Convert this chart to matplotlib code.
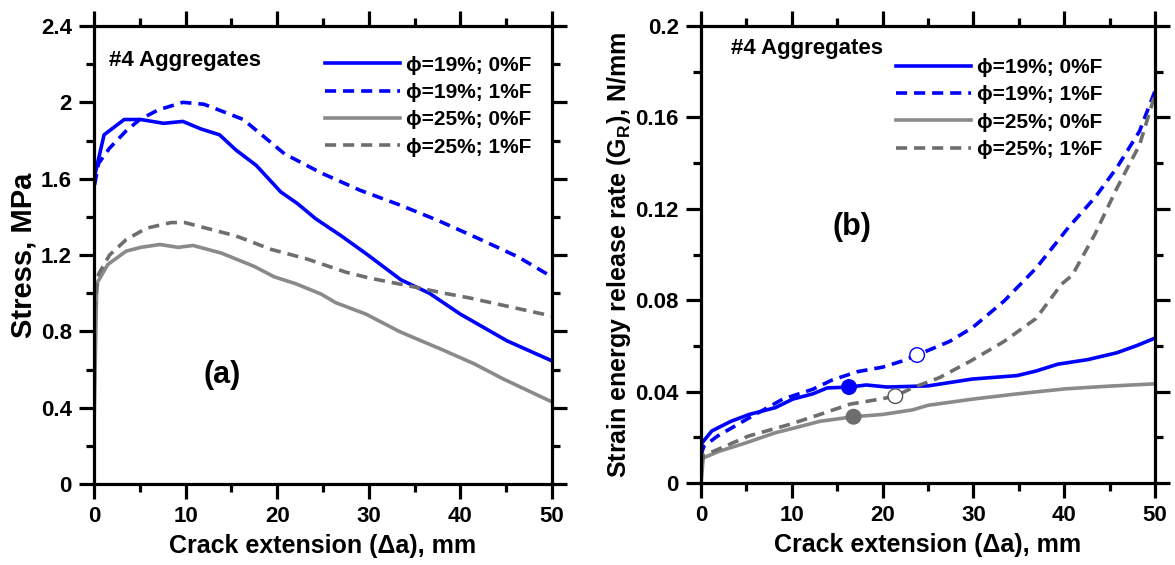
import numpy as np
import matplotlib
matplotlib.use('Agg')
import matplotlib.pyplot as plt
from matplotlib.ticker import MultipleLocator, FormatStrFormatter

plt.rcParams['font.family'] = ['Liberation Sans', 'DejaVu Sans']
plt.rcParams['font.weight'] = 'bold'
plt.rcParams['mathtext.fontset'] = 'custom'
plt.rcParams['mathtext.rm'] = 'Liberation Sans:bold'
plt.rcParams['mathtext.bf'] = 'Liberation Sans:bold'
plt.rcParams['mathtext.it'] = 'Liberation Sans:bold'
plt.rcParams['lines.scale_dashes'] = False

labels = ['\u03d5=19%; 0%F', '\u03d5=19%; 1%F', '\u03d5=25%; 0%F', '\u03d5=25%; 1%F']

# (a) stress vs crack extension
sa_x1 = [0, 0, 1.1, 3.3, 5.1, 7.6, 9.7, 11.7, 13.7, 15.5, 17.7, 20.4, 22.2, 24.2, 27, 29.9, 33.5, 36.6, 40, 45.1, 50]
sa_y1 = [0.95, 1.6, 1.83, 1.91, 1.91, 1.89, 1.90, 1.86, 1.83, 1.75, 1.67, 1.53, 1.47, 1.39, 1.30, 1.20, 1.07, 1.0, 0.89, 0.75, 0.645]
sa_x2 = [0, 0, 0.5, 1.7, 3.5, 5, 7, 9.7, 12, 13.9, 16.3, 20.8, 24.8, 29, 33.5, 37.6, 41.8, 46.3, 50]
sa_y2 = [1.0, 1.55, 1.68, 1.76, 1.85, 1.91, 1.96, 2.0, 1.99, 1.955, 1.91, 1.73, 1.63, 1.54, 1.46, 1.38, 1.29, 1.19, 1.085]
sa_x3 = [0, 0.3, 1.5, 3.5, 5.1, 7.2, 9.2, 10.8, 13.9, 17.5, 19.7, 22, 24.8, 26.4, 29.7, 33.3, 35, 38.2, 41.5, 44.7, 50]
sa_y3 = [0.3, 1.05, 1.15, 1.22, 1.24, 1.255, 1.24, 1.25, 1.21, 1.14, 1.085, 1.05, 0.995, 0.95, 0.89, 0.80, 0.765, 0.70, 0.63, 0.55, 0.43]
sa_x4 = [0, 0.5, 1.7, 3.5, 5.7, 8.4, 9.9, 12.3, 15.5, 19.3, 23.2, 27.5, 30, 34.2, 38.2, 41, 50]
sa_y4 = [0.9, 1.10, 1.20, 1.28, 1.34, 1.37, 1.37, 1.34, 1.30, 1.23, 1.18, 1.11, 1.08, 1.04, 1.0, 0.975, 0.88]

# (b) strain energy release rate vs crack extension
gb_x1 = [0, 0, 1.2, 3.3, 5.3, 8.2, 10.1, 12.3, 13.9, 16.4, 18.2, 20.5, 25, 29.9, 34.8, 36.9, 39.3, 42.6, 45.8, 47.9, 50]
gb_y1 = [0.008, 0.017, 0.0228, 0.027, 0.030, 0.033, 0.0367, 0.039, 0.0416, 0.042, 0.0429, 0.042, 0.0425, 0.0455, 0.047, 0.049, 0.052, 0.054, 0.057, 0.060, 0.0634]
gb_x2 = [0, 0.3, 1.8, 5.3, 9, 12.3, 14.4, 17.2, 20, 22.1, 23.8, 27.4, 29.9, 33.4, 36.9, 40.5, 43.4, 45.8, 48.3, 50]
gb_y2 = [0.012, 0.016, 0.0205, 0.0285, 0.0367, 0.041, 0.045, 0.0487, 0.0507, 0.0533, 0.056, 0.062, 0.068, 0.0797, 0.094, 0.112, 0.125, 0.138, 0.154, 0.1716]
gb_x3 = [0, 0.25, 2.1, 4.9, 8.2, 10.2, 13.1, 16.8, 20, 23.3, 25, 29.9, 34.8, 40.1, 45, 50]
gb_y3 = [0.0, 0.011, 0.014, 0.0175, 0.022, 0.024, 0.027, 0.029, 0.030, 0.032, 0.034, 0.0367, 0.039, 0.0412, 0.0424, 0.0434]
gb_x4 = [0, 0.3, 5.2, 9.8, 13.1, 16.4, 19.7, 21.4, 23.3, 26.2, 29.7, 33.4, 36.9, 39.7, 40.9, 43.4, 45.8, 48.3, 50]
gb_y4 = [0.008, 0.012, 0.0205, 0.0257, 0.030, 0.0345, 0.0367, 0.038, 0.0417, 0.046, 0.0534, 0.062, 0.072, 0.087, 0.091, 0.109, 0.129, 0.148, 0.17]

# markers on (b)
mk_filled_x = [16.3, 16.8]
mk_filled_y = [0.042, 0.029]
mk_open_x = [23.8, 21.4]
mk_open_y = [0.056, 0.038]

blue = '#0000ff'
gray1 = '#8a8a8a'
gray2 = '#6e6e6e'
lw = 2.6
dash = (8, 5)

fig = plt.figure(figsize=(11.75, 5.65), dpi=100)
ax1 = fig.add_axes([94/1175, 1-484/565, 458/1175, 458/565])
ax2 = fig.add_axes([701/1175, 1-483/565, 454/1175, 457/565])


def style(ax):
    for s in ax.spines.values():
        s.set_linewidth(2.3)
    ax.tick_params(which='both', direction='out', top=True, right=True,
                   width=2.3, labelsize=16, pad=5)
    ax.tick_params(which='major', length=11)
    ax.tick_params(which='minor', length=6)
    ax.xaxis.set_major_locator(MultipleLocator(10))
    ax.xaxis.set_minor_locator(MultipleLocator(5))
    ax.set_xlim(0, 50)
    ax.set_xlabel('Crack extension (\u0394a), mm', fontsize=18, fontweight='bold', labelpad=5)
    for t in ax.get_xticklabels() + ax.get_yticklabels():
        t.set_fontweight('bold')


ax1.plot(sa_x1, sa_y1, color=blue, lw=lw, label=labels[0])
ax1.plot(sa_x2, sa_y2, color=blue, lw=lw, ls=(0, dash), label=labels[1])
ax1.plot(sa_x3, sa_y3, color=gray1, lw=lw, label=labels[2])
ax1.plot(sa_x4, sa_y4, color=gray2, lw=lw, ls=(0, dash), label=labels[3])
ax1.set_ylim(0, 2.4)
ax1.yaxis.set_major_locator(MultipleLocator(0.4))
ax1.yaxis.set_minor_locator(MultipleLocator(0.2))
ax1.yaxis.set_major_formatter(FormatStrFormatter('%g'))
style(ax1)
ax1.set_ylabel('Stress, MPa', fontsize=21, fontweight='bold', labelpad=2)
ax1.text(1.6, 2.22, '#4 Aggregates', fontsize=16, fontweight='bold', va='center')
ax1.text(14, 0.57, '(a)', fontsize=22, fontweight='bold', ha='center', va='center')

ax2.plot(gb_x1, gb_y1, color=blue, lw=lw, label=labels[0])
ax2.plot(gb_x2, gb_y2, color=blue, lw=lw, ls=(0, dash), label=labels[1])
ax2.plot(gb_x3, gb_y3, color=gray1, lw=lw, label=labels[2])
ax2.plot(gb_x4, gb_y4, color=gray2, lw=lw, ls=(0, dash), label=labels[3])
ax2.scatter(mk_filled_x, mk_filled_y, s=110, c=[blue, gray2], zorder=5)
ax2.scatter(mk_open_x, mk_open_y, s=110, facecolors='white',
            edgecolors=[blue, '#555555'], linewidths=1, zorder=5)
ax2.set_ylim(0, 0.2)
ax2.yaxis.set_major_locator(MultipleLocator(0.04))
ax2.yaxis.set_minor_locator(MultipleLocator(0.02))
ax2.yaxis.set_major_formatter(FormatStrFormatter('%g'))
style(ax2)
ax2.set_ylabel('Strain energy release rate (G$_\\mathrm{R}$), N/mm', fontsize=18, fontweight='bold', labelpad=2)
ax2.text(3.3, 0.19, '#4 Aggregates', fontsize=16, fontweight='bold', va='center')
ax2.text(16.6, 0.112, '(b)', fontsize=22, fontweight='bold', ha='center', va='center')

ax1.legend(loc='upper right', bbox_to_anchor=(0.955, 0.935), frameon=False,
           fontsize=15, handlelength=3.6, handletextpad=0.3,
           labelspacing=0.4, borderaxespad=0.0, borderpad=0.0)
ax2.legend(loc='upper right', bbox_to_anchor=(0.885, 0.93), frameon=False,
           fontsize=15, handlelength=3.6, handletextpad=0.3,
           labelspacing=0.4, borderaxespad=0.0, borderpad=0.0)

fig.savefig('out.png', dpi=100)
